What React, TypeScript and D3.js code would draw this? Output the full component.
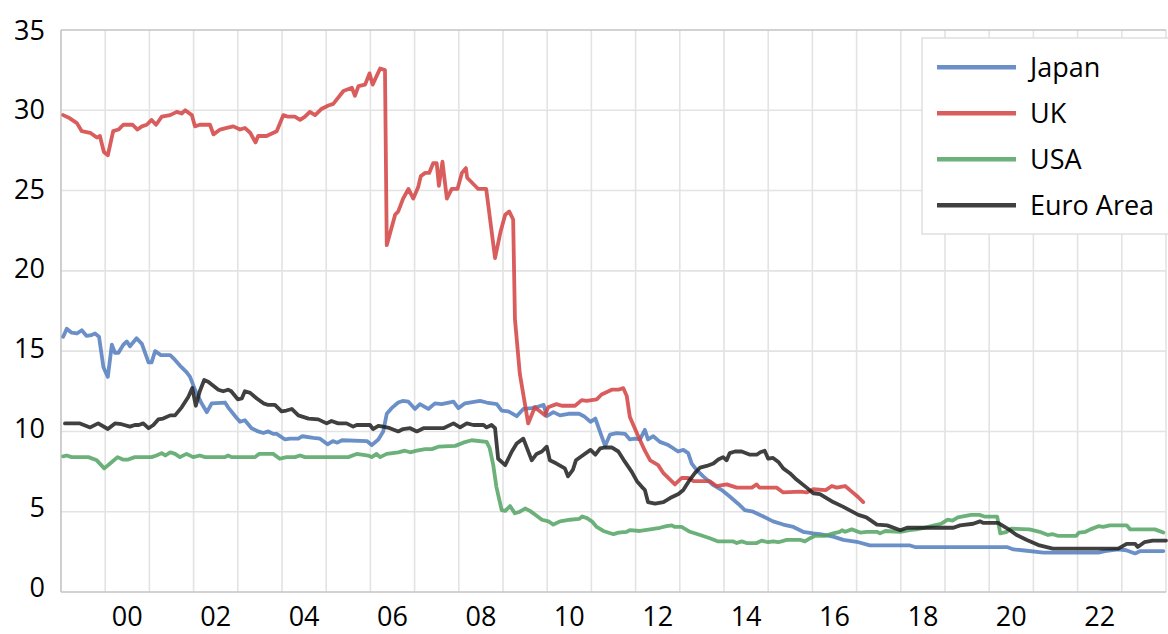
import React from "react";
import * as d3 from "d3";

type Pt = [number, number];

const japan: Pt[] = [[1999.05,15.9],[1999.13,16.4],[1999.24,16.15],[1999.36,16.1],[1999.47,16.3],[1999.58,15.95],[1999.69,16.0],[1999.77,16.1],[1999.86,15.9],[1999.96,14.0],[2000.06,13.4],[2000.15,15.4],[2000.22,14.9],[2000.30,14.9],[2000.41,15.4],[2000.49,15.6],[2000.56,15.3],[2000.71,15.8],[2000.83,15.45],[2000.98,14.3],[2001.05,14.3],[2001.13,15.0],[2001.26,14.75],[2001.47,14.75],[2001.58,14.45],[2001.69,14.1],[2001.84,13.7],[2001.92,13.4],[2002.03,12.6],[2002.18,11.75],[2002.30,11.2],[2002.41,11.75],[2002.71,11.8],[2002.78,11.5],[2002.97,10.85],[2003.05,10.6],[2003.16,10.7],[2003.31,10.2],[2003.46,10.0],[2003.58,9.9],[2003.69,10.0],[2003.80,9.85],[2003.88,9.85],[2004.07,9.5],[2004.18,9.55],[2004.37,9.55],[2004.46,9.7],[2004.71,9.6],[2004.86,9.55],[2005.03,9.2],[2005.15,9.4],[2005.25,9.3],[2005.36,9.45],[2005.92,9.4],[2006.03,9.15],[2006.18,9.5],[2006.29,10.0],[2006.37,11.1],[2006.48,11.45],[2006.63,11.8],[2006.73,11.9],[2006.86,11.85],[2007.01,11.4],[2007.12,11.7],[2007.31,11.4],[2007.46,11.75],[2007.61,11.7],[2007.88,11.85],[2007.99,11.45],[2008.14,11.75],[2008.48,11.9],[2008.63,11.8],[2008.86,11.7],[2008.97,11.3],[2009.12,11.25],[2009.31,10.95],[2009.46,11.4],[2009.65,11.45],[2009.80,11.55],[2009.92,11.65],[2009.99,10.95],[2010.14,11.2],[2010.29,11.0],[2010.48,11.1],[2010.72,11.1],[2010.83,10.95],[2010.98,10.6],[2011.09,10.8],[2011.23,9.7],[2011.31,9.1],[2011.42,9.8],[2011.57,9.9],[2011.76,9.85],[2011.87,9.5],[2011.99,9.55],[2012.10,9.5],[2012.21,10.1],[2012.28,9.5],[2012.40,9.7],[2012.55,9.35],[2012.74,9.15],[2012.85,8.95],[2012.96,8.75],[2013.08,8.85],[2013.19,8.65],[2013.27,8.0],[2013.38,7.6],[2013.53,7.2],[2013.76,6.65],[2013.95,6.35],[2014.13,5.95],[2014.32,5.5],[2014.47,5.1],[2014.66,5.0],[2014.89,4.7],[2015.11,4.4],[2015.34,4.2],[2015.57,4.05],[2015.79,3.75],[2016.02,3.65],[2016.17,3.6],[2016.47,3.45],[2016.70,3.25],[2017.04,3.1],[2017.30,2.9],[2018.21,2.9],[2018.32,2.8],[2020.40,2.8],[2020.55,2.65],[2020.75,2.6],[2021.23,2.45],[2022.47,2.45],[2022.62,2.55],[2022.92,2.65],[2023.10,2.6],[2023.30,2.4],[2023.42,2.55],[2023.94,2.55]];

const uk: Pt[] = [[1999.05,29.7],[1999.20,29.5],[1999.36,29.2],[1999.47,28.7],[1999.66,28.6],[1999.81,28.3],[1999.88,28.4],[1999.97,27.4],[2000.06,27.2],[2000.18,28.7],[2000.30,28.8],[2000.41,29.1],[2000.52,29.1],[2000.62,29.1],[2000.73,28.8],[2000.83,29.0],[2000.94,29.1],[2001.05,29.4],[2001.15,29.1],[2001.28,29.6],[2001.47,29.7],[2001.62,29.9],[2001.73,29.8],[2001.81,30.0],[2001.96,29.7],[2002.03,29.0],[2002.14,29.1],[2002.37,29.1],[2002.45,28.5],[2002.60,28.8],[2002.75,28.9],[2002.90,29.0],[2003.05,28.8],[2003.16,28.9],[2003.28,28.6],[2003.40,28.0],[2003.46,28.4],[2003.65,28.4],[2003.88,28.7],[2004.03,29.7],[2004.14,29.6],[2004.29,29.6],[2004.41,29.4],[2004.52,29.6],[2004.63,29.9],[2004.75,29.7],[2004.90,30.1],[2005.05,30.3],[2005.16,30.4],[2005.39,31.2],[2005.58,31.4],[2005.65,30.9],[2005.73,31.5],[2005.88,31.6],[2005.98,32.3],[2006.05,31.6],[2006.22,32.6],[2006.33,32.5],[2006.37,21.6],[2006.56,23.5],[2006.63,23.7],[2006.74,24.5],[2006.86,25.1],[2006.97,24.5],[2007.08,25.2],[2007.14,25.9],[2007.24,26.1],[2007.33,26.1],[2007.42,26.7],[2007.50,26.7],[2007.55,25.3],[2007.63,26.8],[2007.73,24.5],[2007.84,25.1],[2007.97,25.1],[2008.07,26.1],[2008.16,26.4],[2008.19,25.8],[2008.44,25.1],[2008.62,25.1],[2008.82,20.8],[2008.95,22.5],[2009.05,23.5],[2009.14,23.7],[2009.23,23.2],[2009.27,17.0],[2009.38,13.6],[2009.57,10.5],[2009.72,11.5],[2009.95,11.0],[2010.02,11.5],[2010.21,11.7],[2010.33,11.6],[2010.63,11.6],[2010.78,11.95],[2010.89,11.9],[2011.12,12.0],[2011.23,12.3],[2011.46,12.6],[2011.61,12.6],[2011.72,12.7],[2011.80,12.2],[2011.87,10.9],[2012.06,9.7],[2012.21,8.8],[2012.33,8.2],[2012.51,7.9],[2012.63,7.4],[2012.89,6.7],[2013.04,7.1],[2013.19,7.1],[2013.31,6.9],[2013.68,6.9],[2013.83,6.6],[2014.06,6.7],[2014.29,6.5],[2014.63,6.5],[2014.74,6.7],[2014.80,6.5],[2015.19,6.5],[2015.34,6.2],[2015.72,6.25],[2015.87,6.2],[2016.02,6.4],[2016.30,6.35],[2016.44,6.6],[2016.55,6.5],[2016.74,6.6],[2016.89,6.25],[2017.04,5.9],[2017.15,5.6]];

const usa: Pt[] = [[1999.05,8.45],[1999.13,8.5],[1999.24,8.4],[1999.62,8.4],[1999.81,8.2],[1999.98,7.7],[2000.15,8.1],[2000.28,8.4],[2000.40,8.25],[2000.52,8.25],[2000.67,8.4],[2001.05,8.4],[2001.16,8.5],[2001.28,8.65],[2001.36,8.5],[2001.47,8.7],[2001.58,8.6],[2001.69,8.4],[2001.84,8.6],[2001.99,8.4],[2002.14,8.5],[2002.26,8.4],[2002.71,8.4],[2002.78,8.5],[2002.86,8.4],[2003.39,8.4],[2003.48,8.6],[2003.80,8.6],[2003.95,8.3],[2004.10,8.4],[2004.29,8.4],[2004.41,8.5],[2004.52,8.4],[2005.50,8.4],[2005.69,8.6],[2005.95,8.5],[2006.03,8.4],[2006.14,8.6],[2006.22,8.4],[2006.37,8.6],[2006.63,8.7],[2006.78,8.8],[2006.90,8.7],[2007.05,8.8],[2007.24,8.9],[2007.39,8.9],[2007.54,9.05],[2007.92,9.1],[2008.10,9.3],[2008.29,9.45],[2008.63,9.35],[2008.70,8.95],[2008.78,7.9],[2008.85,6.55],[2008.97,5.1],[2009.05,5.05],[2009.16,5.35],[2009.27,4.9],[2009.38,5.0],[2009.50,5.2],[2009.61,5.05],[2009.76,4.75],[2009.88,4.5],[2010.03,4.4],[2010.14,4.2],[2010.29,4.4],[2010.52,4.5],[2010.72,4.55],[2010.79,4.7],[2010.90,4.6],[2011.01,4.4],[2011.12,4.05],[2011.27,3.8],[2011.50,3.6],[2011.61,3.7],[2011.80,3.75],[2011.87,3.85],[2012.10,3.8],[2012.33,3.9],[2012.55,4.0],[2012.70,4.1],[2012.82,4.15],[2012.89,4.05],[2013.04,4.05],[2013.23,3.75],[2013.46,3.55],[2013.68,3.35],[2013.87,3.15],[2014.21,3.15],[2014.29,3.05],[2014.40,3.15],[2014.51,3.05],[2014.74,3.05],[2014.85,3.2],[2015.00,3.1],[2015.11,3.15],[2015.23,3.1],[2015.42,3.25],[2015.72,3.25],[2015.83,3.15],[2015.95,3.35],[2016.06,3.5],[2016.29,3.5],[2016.47,3.65],[2016.62,3.75],[2016.67,3.85],[2016.74,3.75],[2016.89,3.9],[2017.08,3.7],[2017.23,3.75],[2017.46,3.75],[2017.53,3.65],[2017.65,3.8],[2017.99,3.75],[2018.20,3.85],[2018.35,3.9],[2018.53,4.0],[2018.76,4.15],[2018.91,4.25],[2019.06,4.5],[2019.17,4.45],[2019.29,4.65],[2019.59,4.8],[2019.78,4.8],[2019.89,4.7],[2020.18,4.7],[2020.25,3.65],[2020.40,3.75],[2020.50,3.95],[2020.91,3.9],[2021.14,3.75],[2021.33,3.55],[2021.44,3.6],[2021.55,3.5],[2021.97,3.5],[2022.03,3.7],[2022.18,3.75],[2022.29,3.9],[2022.47,4.1],[2022.58,4.05],[2022.73,4.15],[2023.11,4.15],[2023.19,3.9],[2023.75,3.9],[2023.94,3.7]];

const euro: Pt[] = [[1999.09,10.5],[1999.43,10.5],[1999.66,10.25],[1999.84,10.5],[2000.06,10.15],[2000.22,10.5],[2000.37,10.45],[2000.56,10.3],[2000.67,10.4],[2000.76,10.4],[2000.86,10.5],[2000.98,10.2],[2001.09,10.4],[2001.20,10.75],[2001.31,10.8],[2001.47,11.0],[2001.58,11.0],[2001.73,11.5],[2001.88,12.15],[2001.97,12.7],[2002.05,11.6],[2002.14,12.5],[2002.24,13.2],[2002.33,13.1],[2002.56,12.6],[2002.67,12.5],[2002.78,12.6],[2002.85,12.5],[2003.00,12.0],[2003.09,12.05],[2003.16,12.5],[2003.28,12.4],[2003.43,12.05],[2003.58,11.75],[2003.69,11.65],[2003.84,11.65],[2003.99,11.25],[2004.10,11.3],[2004.22,11.4],[2004.37,11.0],[2004.60,10.8],[2004.82,10.75],[2005.01,10.5],[2005.12,10.65],[2005.27,10.5],[2005.46,10.5],[2005.61,10.3],[2005.69,10.4],[2005.99,10.4],[2006.06,10.15],[2006.18,10.35],[2006.29,10.3],[2006.44,10.2],[2006.63,10.0],[2006.74,10.15],[2006.90,10.2],[2007.05,10.0],[2007.20,10.2],[2007.65,10.2],[2007.88,10.5],[2008.03,10.25],[2008.18,10.5],[2008.33,10.4],[2008.56,10.4],[2008.63,10.25],[2008.74,10.4],[2008.82,10.2],[2008.89,8.3],[2009.05,7.9],[2009.20,8.75],[2009.31,9.25],[2009.46,9.55],[2009.65,8.2],[2009.76,8.6],[2009.88,8.75],[2009.99,9.05],[2010.06,8.2],[2010.21,8.0],[2010.40,7.7],[2010.47,7.2],[2010.58,7.6],[2010.65,8.2],[2010.80,8.5],[2010.98,8.85],[2011.09,8.55],[2011.20,8.95],[2011.31,9.0],[2011.46,9.0],[2011.61,8.75],[2011.76,8.1],[2011.91,7.5],[2012.03,6.9],[2012.14,6.55],[2012.21,6.35],[2012.28,5.6],[2012.44,5.5],[2012.63,5.6],[2012.78,5.85],[2012.97,6.1],[2013.08,6.35],[2013.23,7.0],[2013.34,7.4],[2013.46,7.75],[2013.61,7.85],[2013.76,8.0],[2013.87,8.25],[2013.98,8.4],[2014.06,8.2],[2014.13,8.65],[2014.25,8.75],[2014.40,8.75],[2014.59,8.55],[2014.74,8.55],[2014.82,8.7],[2014.92,8.8],[2015.00,8.3],[2015.11,8.35],[2015.23,8.1],[2015.34,7.7],[2015.49,7.4],[2015.64,7.0],[2015.87,6.5],[2016.02,6.15],[2016.17,6.1],[2016.47,5.6],[2016.70,5.3],[2017.04,4.8],[2017.22,4.65],[2017.46,4.2],[2017.69,4.15],[2017.99,3.85],[2018.14,4.0],[2019.19,4.0],[2019.34,4.15],[2019.64,4.25],[2019.79,4.4],[2019.87,4.3],[2020.20,4.3],[2020.47,3.85],[2020.62,3.55],[2020.84,3.25],[2021.14,2.9],[2021.44,2.7],[2022.92,2.7],[2023.11,3.0],[2023.30,3.0],[2023.36,2.8],[2023.51,3.1],[2023.70,3.2],[2024.0,3.2]];

const seriesNames = ["Japan", "UK", "USA", "Euro Area"];
const seriesColors = ["#517cbe", "#d34141", "#52a263", "#1e1e1e"];
const seriesData = [japan, uk, usa, euro];

const yTicks = [0, 5, 10, 15, 20, 25, 30, 35];
const gridYears = d3.range(2000, 2025);
const labelYears = [2000, 2002, 2004, 2006, 2008, 2010, 2012, 2014, 2016, 2018, 2020, 2022];

const W = 1168;
const H = 634;
const FONT = "'Open Sans', 'Noto Sans', sans-serif";

export default function App() {
  const x = d3.scaleLinear().domain([1999, 2024]).range([61, 1166]);
  const y = d3.scaleLinear().domain([0, 35]).range([592, 30]);
  const line = d3
    .line<Pt>()
    .x((d) => x(d[0]))
    .y((d) => y(d[1]));

  const legendX = 922;
  const legendY = 38;
  const legendRow = 46;

  return (
    <div style={{ position: "absolute", left: 0, top: 0, width: W, height: H, background: "#fff" }}>
      <svg width={W} height={H} style={{ display: "block" }}>
        <rect x={0} y={0} width={W} height={H} fill="#fff" />
        {yTicks.slice(1, -1).map((t) => (
          <line key={"h" + t} x1={x(1999)} x2={x(2024)} y1={y(t)} y2={y(t)} stroke="#e3e3e3" strokeWidth={1.6} />
        ))}
        {gridYears.map((yr) => (
          <line key={"v" + yr} x1={x(yr)} x2={x(yr)} y1={y(35)} y2={y(0)} stroke="#e3e3e3" strokeWidth={1.6} />
        ))}
        <line x1={x(1999)} x2={x(2024)} y1={y(35)} y2={y(35)} stroke="#c3c3c3" strokeWidth={1.6} />
        <line x1={x(1999)} x2={x(2024)} y1={y(0)} y2={y(0)} stroke="#c3c3c3" strokeWidth={1.6} />
        <line x1={x(1999)} x2={x(1999)} y1={y(35)} y2={y(0)} stroke="#c3c3c3" strokeWidth={1.6} />

        {yTicks.map((t) => (
          <text
            key={"yl" + t}
            x={45}
            y={y(t) + 5 + t * 0.13}
            textAnchor="end"
            fontFamily={FONT}
            fontSize={27}
            fill="#000"
          >
            {t}
          </text>
        ))}
        {labelYears.map((yr) => (
          <text
            key={"xl" + yr}
            x={x(yr + 0.5)}
            y={626}
            textAnchor="middle"
            fontFamily={FONT}
            fontSize={27}
            fill="#000"
          >
            {String(yr % 100).padStart(2, "0")}
          </text>
        ))}

        {seriesData.map((data, i) => (
          <path
            key={seriesNames[i]}
            d={line(data) || ""}
            fill="none"
            stroke={seriesColors[i]}
            strokeOpacity={0.85}
            strokeWidth={3.8}
            strokeLinejoin="round"
            strokeLinecap="round"
          />
        ))}

        <rect x={legendX} y={legendY} width={260} height={196} fill="#fff" stroke="#dadada" strokeWidth={1.3} />
        {seriesNames.map((name, i) => {
          const ly = 67.3 + i * legendRow;
          return (
            <g key={"lg" + name}>
              <line
                x1={937}
                x2={1016}
                y1={ly}
                y2={ly}
                stroke={seriesColors[i]}
                strokeOpacity={0.85}
                strokeWidth={4.5}
              />
              <text x={1030} y={ly + 9.7} fontFamily={FONT} fontSize={27} fill="#000">
                {name}
              </text>
            </g>
          );
        })}
      </svg>
    </div>
  );
}
